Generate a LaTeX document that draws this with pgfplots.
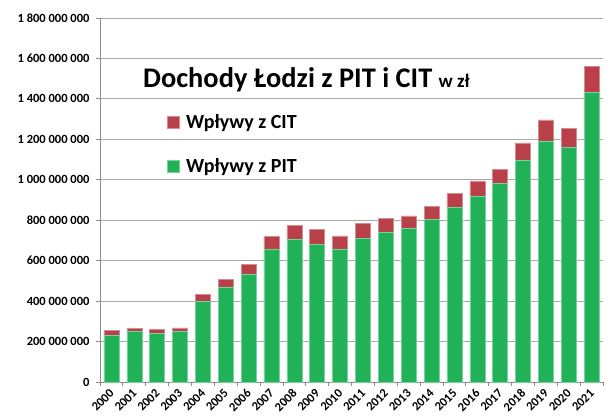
\documentclass[border=0pt]{standalone}
\usepackage{pgfplots}
\usepackage{pgfplotstable}
\pgfplotsset{compat=1.18}
\usepackage{fontspec}
\setmainfont{Carlito}
\definecolor{pitgreen}{RGB}{33,178,88}
\definecolor{citred}{RGB}{185,64,72}
\definecolor{gridgray}{RGB}{170,170,170}
\definecolor{axisgray}{RGB}{140,140,140}

\pgfplotstableread{
x  year pit        cit
0  2000 232000000  22000000
1  2001 249000000  15000000
2  2002 240000000  19000000
3  2003 252000000  16000000
4  2004 399000000  33000000
5  2005 470000000  37000000
6  2006 534000000  48000000
7  2007 658000000  62000000
8  2008 704000000  70000000
9  2009 680000000  73000000
10 2010 658000000  65000000
11 2011 712000000  71000000
12 2012 743000000  66000000
13 2013 758000000  64000000
14 2014 806000000  61000000
15 2015 865000000  68000000
16 2016 921000000  73000000
17 2017 982000000  71000000
18 2018 1098000000 84000000
19 2019 1193000000 103000000
20 2020 1159000000 97000000
21 2021 1434000000 127000000
}\datatable

\begin{document}
\begin{tikzpicture}
\useasboundingbox (-100pt,-34pt) rectangle (512pt,382pt);
\begin{axis}[
  at={(0,0)}, anchor=south west,
  width=503pt, height=364pt, scale only axis,
  ybar stacked, bar width=15pt,
  xmin=-0.5, xmax=21.5, ymin=0, ymax=1800000000,
  scaled y ticks=false,
  xtick={0,...,21},
  xticklabels={2000,2001,2002,2003,2004,2005,2006,2007,2008,2009,2010,2011,2012,2013,2014,2015,2016,2017,2018,2019,2020,2021},
  major x tick style={draw=none},
  minor xtick={-0.5,0.5,...,21.5},
  ytick={0,200000000,400000000,600000000,800000000,1000000000,1200000000,1400000000,1600000000,1800000000},
  yticklabels={0,200 000 000,400 000 000,600 000 000,800 000 000,1 000 000 000,1 200 000 000,1 400 000 000,1 600 000 000,1 800 000 000},
  ymajorgrids, grid style={gridgray, line width=0.8pt},
  axis lines*=left, axis line style={axisgray, line width=0.8pt},
  tick style={axisgray, line width=0.8pt}, tick align=outside,
  major tick length=4pt, minor tick length=4pt,
  ticklabel style={font=\bfseries\fontsize{12.5}{14}\selectfont},
  yticklabel style={xshift=-3pt},
  xticklabel style={yshift=-4pt, xshift=1.5pt, rotate=45, anchor=east, inner sep=1.5pt, font=\bfseries\fontsize{12.5}{14}\selectfont},
  reverse legend,
  legend cell align=left,
  legend image code/.code={\fill[#1] (0pt,-6pt) rectangle (12pt,6pt);},
  legend style={draw=none, fill=none, inner sep=0pt,
    font=\bfseries\fontsize{20}{24}\selectfont, row sep=24pt,
    nodes={inner xsep=6.5pt},
    at={(axis description cs:0.1332,0.741)}, anchor=north west},
]
\addplot[fill=pitgreen, draw=pitgreen!60!white, line width=0.5pt] table[x=x, y=pit] {\datatable};
\addlegendentry{Wpływy z PIT}
\addplot[fill=citred, draw=citred!60!white, line width=0.5pt] table[x=x, y=cit] {\datatable};
\addlegendentry{Wpływy z CIT}
\node[anchor=base west, inner sep=0pt, font=\bfseries\fontsize{28.4}{32}\selectfont]
  at (axis description cs:0.0855,0.810) {Dochody Łodzi z PIT i CIT {\fontsize{19}{21}\selectfont w zł}};
\end{axis}
\end{tikzpicture}
\end{document}
